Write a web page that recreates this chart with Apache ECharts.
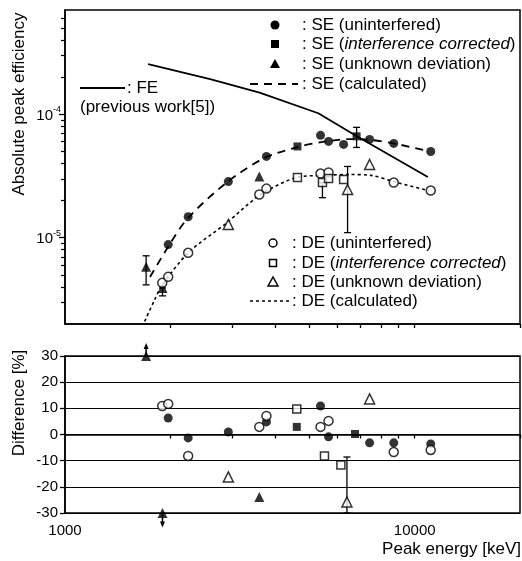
<!DOCTYPE html>
<html><head><meta charset="utf-8">
<script src="https://cdn.jsdelivr.net/npm/echarts@6/dist/echarts.min.js"></script>
<style>html,body{margin:0;padding:0;background:#fff}#c{width:522px;height:561px}</style>
</head><body><div id="c"></div>
<script>
// ---- Data (peak energy in keV) ----
// Top panel: absolute peak efficiency
const feEnergy = [1729, 2600, 3600, 5300, 6850, 10900];
const feEff = [2.55e-4, 1.93e-4, 1.50e-4, 1.02e-4, 6.6e-5, 3.1e-5];

const seCalcEnergy = [1750, 2000, 2250, 2900, 3700, 4600, 5500, 6500, 7500, 9000, 11000];
const seCalcEff = [4.8e-6, 9.0e-6, 1.45e-5, 2.8e-5, 4.4e-5, 5.4e-5, 6.0e-5, 6.3e-5, 6.2e-5, 5.7e-5, 5.0e-5];

const deCalcEnergy = [1690, 1800, 1900, 2250, 2900, 3600, 4600, 5500, 6500, 7500, 8700, 11000];
const deCalcEff = [2.1e-6, 3.1e-6, 4.15e-6, 7.55e-6, 1.32e-5, 2.2e-5, 3.08e-5, 3.2e-5, 3.25e-5, 3.2e-5, 2.85e-5, 2.4e-5];

const seUninterfEnergy = [1973, 2250, 2931, 3767, 5378, 5670, 6262, 7430, 8710, 11110];
const seUninterfEff = [8.8e-6, 1.48e-5, 2.85e-5, 4.56e-5, 6.75e-5, 6.03e-5, 5.70e-5, 6.26e-5, 5.81e-5, 5.0e-5];

const seCorrEnergy = [4620, 6820];
const seCorrEff = [5.49e-5, 6.63e-5];

const seUnknownEnergy = [1706, 1900, 3594];
const seUnknownEff = [5.81e-6, 3.92e-6, 3.13e-5];

const deUninterfEnergy = [1897, 1973, 2250, 3594, 3767, 5378, 5670, 8710, 11110];
const deUninterfEff = [4.31e-6, 4.82e-6, 7.55e-6, 2.24e-5, 2.50e-5, 3.31e-5, 3.38e-5, 2.80e-5, 2.41e-5];

const deCorrEnergy = [4620, 5447, 5670, 6262];
const deCorrEff = [3.08e-5, 2.80e-5, 3.02e-5, 2.96e-5];

const deUnknownEnergy = [2931, 6427, 7430];
const deUnknownEff = [1.28e-5, 2.46e-5, 3.92e-5];

// error bars: energy, low, high
const errEnergy = [1706, 1900, 6820, 5447, 6427];
const errLow = [4.15e-6, 3.38e-6, 5.39e-5, 2.11e-5, 1.10e-5];
const errHigh = [7.14e-6, 3.92e-6, 7.84e-5, 2.80e-5, 3.78e-5];

// Bottom panel: difference [%]
const dSeUninterfEnergy = [1973, 2250, 2931, 3767, 5378, 5670, 7430, 8710, 11110];
const dSeUninterf = [6.3, -1.3, 1.0, 4.8, 10.9, -0.9, -3.2, -3.2, -3.6];
const dSeCorrEnergy = [4600, 6750];
const dSeCorr = [2.9, 0.2];
const dSeUnknownEnergy = [1706, 1900, 3594];
const dSeUnknown = [30, -30, -23.9];
const dDeUninterfEnergy = [1897, 1973, 2250, 3594, 3767, 5378, 5670, 8710, 11110];
const dDeUninterf = [10.9, 11.7, -8.2, 2.9, 7.1, 2.9, 5.2, -6.7, -5.9];
const dDeCorrEnergy = [4600, 5520, 6150];
const dDeCorr = [9.7, -8.2, -11.7];
const dDeUnknownEnergy = [2931, 6400, 7430];
const dDeUnknown = [-16.2, -25.8, 13.6];
const dErrEnergy = [6400];
const dErrLow = [-30];
const dErrHigh = [-8.6];
// off-scale arrows: energy, start, end
const arrowEnergy = [1706, 1900];
const arrowFrom = [30, -30];
const arrowTo = [35, -35.5];

// tick values
const xMinorTicks = [2000, 3000, 4000, 5000, 6000, 7000, 8000, 9000, 10000, 20000];
const xLabels = [1000, 10000];
const yMajor = [1e-5, 1e-4];
const yMinor = [3e-6, 4e-6, 5e-6, 6e-6, 7e-6, 8e-6, 9e-6, 2e-5, 3e-5, 4e-5, 5e-5, 6e-5, 7e-5, 8e-5, 9e-5, 2e-4, 3e-4, 4e-4, 5e-4, 6e-4];

const zip = (a, b) => a.map((v, i) => [v, b[i]]);
const FONT = 'Liberation Sans, Arial, sans-serif';
const TFS = 17;

const chart = echarts.init(document.getElementById('c'), null, {renderer: 'canvas'});

function errRender(params, api) {
  const x = api.value(0), lo = api.value(1), hi = api.value(2);
  const p1 = api.coord([x, lo]), p2 = api.coord([x, hi]);
  const w = 3.5;
  const st = {stroke: '#000', lineWidth: 1.3};
  return {type: 'group', children: [
    {type: 'line', shape: {x1: p1[0], y1: p1[1], x2: p2[0], y2: p2[1]}, style: st},
    {type: 'line', shape: {x1: p1[0] - w, y1: p1[1], x2: p1[0] + w, y2: p1[1]}, style: st},
    {type: 'line', shape: {x1: p2[0] - w, y1: p2[1], x2: p2[0] + w, y2: p2[1]}, style: st}
  ]};
}
function arrowRender(params, api) {
  const x = api.value(0), a = api.value(1), b = api.value(2);
  const p1 = api.coord([x, a]), p2 = api.coord([x, b]);
  const dir = p2[1] < p1[1] ? -1 : 1;
  return {type: 'group', children: [
    {type: 'line', shape: {x1: p1[0], y1: p1[1], x2: p2[0], y2: p2[1] - dir * 3}, style: {stroke: '#000', lineWidth: 1.5}},
    {type: 'polygon', shape: {points: [[p2[0], p2[1]], [p2[0] - 2.5, p2[1] - dir * 6], [p2[0] + 2.5, p2[1] - dir * 6]]}, style: {fill: '#000'}}
  ]};
}

const filled = {color: '#000'};
const hollow = {color: '#fff', borderColor: '#000', borderWidth: 1.5};

const option = {
  animation: false,
  backgroundColor: '#fff',
  grid: [
    {left: 65, top: 10, width: 455, height: 314, show: true, borderColor: '#000', borderWidth: 1.5, backgroundColor: 'transparent'},
    {left: 65, top: 356, width: 455, height: 157, show: true, borderColor: '#000', borderWidth: 1.5, backgroundColor: 'transparent'}
  ],
  xAxis: [
    {gridIndex: 0, type: 'log', logBase: 10, min: 1000, max: 20000, position: 'bottom',
     axisLine: {lineStyle: {color: '#000', width: 1.5}},
     axisTick: {show: true, length: 4, customValues: xMinorTicks, lineStyle: {color: '#000', width: 1.3}},
     axisLabel: {show: false}, splitLine: {show: false}, minorTick: {show: false}},
    {gridIndex: 1, type: 'log', logBase: 10, min: 1000, max: 20000, position: 'bottom',
     axisLine: {lineStyle: {color: '#000', width: 1.5}},
     axisTick: {show: true, length: 4, customValues: xMinorTicks, lineStyle: {color: '#000', width: 1.3}},
     axisLabel: {show: true, customValues: xLabels, color: '#000', fontSize: 15, fontFamily: FONT, margin: 10,
       formatter: v => String(Math.round(v))},
     splitLine: {show: false}}
  ],
  yAxis: [
    {gridIndex: 0, type: 'log', logBase: 10, min: 2e-6, max: 7e-4, position: 'left',
     axisLine: {lineStyle: {color: '#000', width: 1.5}},
     axisTick: {show: true, length: 6, customValues: yMajor, lineStyle: {color: '#000', width: 1.3}},
     axisLabel: {show: true, customValues: yMajor, margin: 4,
       formatter: v => '{b|10}{s|' + Math.round(Math.log10(v)) + '}',
       rich: {b: {fontSize: 15, fontFamily: FONT, color: '#000', lineHeight: 18, verticalAlign: 'bottom'},
              s: {fontSize: 9, fontFamily: FONT, color: '#000', lineHeight: 18, verticalAlign: 'top', padding: [0, 0, 8, 0]}}},
     splitLine: {show: false}},
    {gridIndex: 0, type: 'log', logBase: 10, min: 2e-6, max: 7e-4, position: 'left', offset: 0,
     axisLine: {show: false, onZero: false},
     axisTick: {show: true, length: 4, customValues: yMinor, lineStyle: {color: '#000', width: 1.2}},
     axisLabel: {show: false}, splitLine: {show: false}},
    {gridIndex: 1, type: 'value', min: -30, max: 30, interval: 10, position: 'left',
     axisLine: {lineStyle: {color: '#000', width: 1.5}},
     axisTick: {show: true, length: 5, lineStyle: {color: '#000', width: 1.3}},
     axisLabel: {color: '#000', fontSize: 15, fontFamily: FONT, margin: 7},
     splitLine: {show: true, lineStyle: {color: '#000', width: 1.2}}}
  ],
  series: [
    {type: 'line', xAxisIndex: 0, yAxisIndex: 0, data: zip(feEnergy, feEff), showSymbol: false, symbol: 'none',
     lineStyle: {color: '#000', width: 1.8}, z: 3},
    {type: 'line', xAxisIndex: 0, yAxisIndex: 0, data: zip(seCalcEnergy, seCalcEff), symbol: 'none', smooth: 0.3,
     lineStyle: {color: '#000', width: 1.8, type: [8, 6]}, z: 3},
    {type: 'line', xAxisIndex: 0, yAxisIndex: 0, data: zip(deCalcEnergy, deCalcEff), symbol: 'none', smooth: 0.3,
     lineStyle: {color: '#000', width: 1.6, type: [3, 3]}, z: 3},
    {type: 'custom', xAxisIndex: 0, yAxisIndex: 0, renderItem: errRender,
     data: errEnergy.map((e, i) => [e, errLow[i], errHigh[i]]), encode: {x: 0, y: [1, 2]}, z: 4},
    {type: 'scatter', xAxisIndex: 0, yAxisIndex: 0, data: zip(seUninterfEnergy, seUninterfEff), symbol: 'circle', symbolSize: 9, itemStyle: filled, z: 5},
    {type: 'scatter', xAxisIndex: 0, yAxisIndex: 0, data: zip(seCorrEnergy, seCorrEff), symbol: 'rect', symbolSize: 8, itemStyle: filled, z: 5},
    {type: 'scatter', xAxisIndex: 0, yAxisIndex: 0, data: zip(seUnknownEnergy, seUnknownEff), symbol: 'triangle', symbolSize: 10, itemStyle: filled, z: 5},
    {type: 'scatter', xAxisIndex: 0, yAxisIndex: 0, data: zip(deUninterfEnergy, deUninterfEff), symbol: 'circle', symbolSize: 9, itemStyle: hollow, z: 5},
    {type: 'scatter', xAxisIndex: 0, yAxisIndex: 0, data: zip(deCorrEnergy, deCorrEff), symbol: 'rect', symbolSize: 8, itemStyle: hollow, z: 5},
    {type: 'scatter', xAxisIndex: 0, yAxisIndex: 0, data: zip(deUnknownEnergy, deUnknownEff), symbol: 'triangle', symbolSize: 10, itemStyle: hollow, z: 5},

    {type: 'custom', xAxisIndex: 1, yAxisIndex: 2, renderItem: errRender, clip: false,
     data: dErrEnergy.map((e, i) => [e, dErrLow[i], dErrHigh[i]]), encode: {x: 0, y: [1, 2]}, z: 4},
    {type: 'custom', xAxisIndex: 1, yAxisIndex: 2, renderItem: arrowRender, clip: false,
     data: arrowEnergy.map((e, i) => [e, arrowFrom[i], arrowTo[i]]), encode: {x: 0, y: [1, 2]}, z: 4},
    {type: 'scatter', xAxisIndex: 1, yAxisIndex: 2, data: zip(dSeUninterfEnergy, dSeUninterf), symbol: 'circle', symbolSize: 9, itemStyle: filled, z: 5},
    {type: 'scatter', xAxisIndex: 1, yAxisIndex: 2, data: zip(dSeCorrEnergy, dSeCorr), symbol: 'rect', symbolSize: 8, itemStyle: filled, z: 5},
    {type: 'scatter', xAxisIndex: 1, yAxisIndex: 2, data: zip(dSeUnknownEnergy, dSeUnknown), symbol: 'triangle', symbolSize: 10, itemStyle: filled, clip: false, z: 5},
    {type: 'scatter', xAxisIndex: 1, yAxisIndex: 2, data: zip(dDeUninterfEnergy, dDeUninterf), symbol: 'circle', symbolSize: 9, itemStyle: hollow, z: 5},
    {type: 'scatter', xAxisIndex: 1, yAxisIndex: 2, data: zip(dDeCorrEnergy, dDeCorr), symbol: 'rect', symbolSize: 8, itemStyle: hollow, z: 5},
    {type: 'scatter', xAxisIndex: 1, yAxisIndex: 2, data: zip(dDeUnknownEnergy, dDeUnknown), symbol: 'triangle', symbolSize: 10, itemStyle: hollow, z: 5}
  ],
  graphic: (function () {
    const t = (x, y, text, extra) => Object.assign({type: 'text', x: x, y: y, z: 10,
      style: {text: text, font: TFS + 'px ' + FONT, fill: '#000', textVerticalAlign: 'middle'}}, extra || {});
    const richT = (x, y, a, it, b) => ({type: 'text', x: x, y: y, z: 10,
      style: {text: '{n|' + a + '}{i|' + it + '}{n|' + b + '}', textVerticalAlign: 'middle',
        rich: {n: {fontSize: TFS, fontFamily: FONT, fill: '#000'}, i: {fontSize: TFS, fontFamily: FONT, fontStyle: 'italic', fill: '#000'}}}});
    const els = [];
    // axis titles
    els.push({type: 'text', x: 19, y: 104, rotation: Math.PI / 2, z: 10,
      style: {text: 'Absolute peak efficiency', font: TFS + 'px ' + FONT, fill: '#000', textAlign: 'center', textVerticalAlign: 'middle'}});
    els.push({type: 'text', x: 19, y: 403, rotation: Math.PI / 2, z: 10,
      style: {text: 'Difference [%]', font: TFS + 'px ' + FONT, fill: '#000', textAlign: 'center', textVerticalAlign: 'middle'}});
    els.push({type: 'text', x: 521, y: 549, z: 10,
      style: {text: 'Peak energy [keV]', font: TFS + 'px ' + FONT, fill: '#000', textAlign: 'right', textVerticalAlign: 'middle'}});
    // FE legend
    els.push({type: 'line', z: 10, shape: {x1: 80, y1: 88, x2: 125, y2: 88}, style: {stroke: '#000', lineWidth: 1.8}});
    els.push(t(127, 88, ': FE'));
    els.push(t(80, 107, '(previous work[5])'));
    // SE legend
    const seRows = [25, 44, 64, 84];
    els.push({type: 'circle', z: 10, shape: {cx: 275, cy: seRows[0], r: 4.5}, style: {fill: '#000'}});
    els.push({type: 'rect', z: 10, shape: {x: 271, y: seRows[1] - 4, width: 8, height: 8}, style: {fill: '#000'}});
    els.push({type: 'polygon', z: 10, shape: {points: [[275, seRows[2] - 5], [270, seRows[2] + 4], [280, seRows[2] + 4]]}, style: {fill: '#000'}});
    els.push({type: 'line', z: 10, shape: {x1: 250, y1: seRows[3], x2: 298, y2: seRows[3]}, style: {stroke: '#000', lineWidth: 1.8, lineDash: [8, 6]}});
    els.push(t(302, seRows[0], ': SE (uninterfered)'));
    els.push(richT(302, seRows[1], ': SE (', 'interference corrected', ')'));
    els.push(t(302, seRows[2], ': SE (unknown deviation)'));
    els.push(t(302, seRows[3], ': SE (calculated)'));
    // DE legend
    const deRows = [243, 263, 282, 301];
    els.push({type: 'circle', z: 10, shape: {cx: 273, cy: deRows[0], r: 4}, style: {fill: '#fff', stroke: '#000', lineWidth: 1.5}});
    els.push({type: 'rect', z: 10, shape: {x: 269.5, y: deRows[1] - 3.5, width: 7, height: 7}, style: {fill: '#fff', stroke: '#000', lineWidth: 1.5}});
    els.push({type: 'polygon', z: 10, shape: {points: [[273, deRows[2] - 5], [268, deRows[2] + 4], [278, deRows[2] + 4]]}, style: {fill: '#fff', stroke: '#000', lineWidth: 1.5}});
    els.push({type: 'line', z: 10, shape: {x1: 250, y1: deRows[3], x2: 291, y2: deRows[3]}, style: {stroke: '#000', lineWidth: 1.5, lineDash: [3, 3]}});
    els.push(t(292, deRows[0], ': DE (uninterfered)'));
    els.push(richT(292, deRows[1], ': DE (', 'interference corrected', ')'));
    els.push(t(292, deRows[2], ': DE (unknown deviation)'));
    els.push(t(292, deRows[3], ': DE (calculated)'));
    return els;
  })()
};
chart.setOption(option);
</script></body></html>
